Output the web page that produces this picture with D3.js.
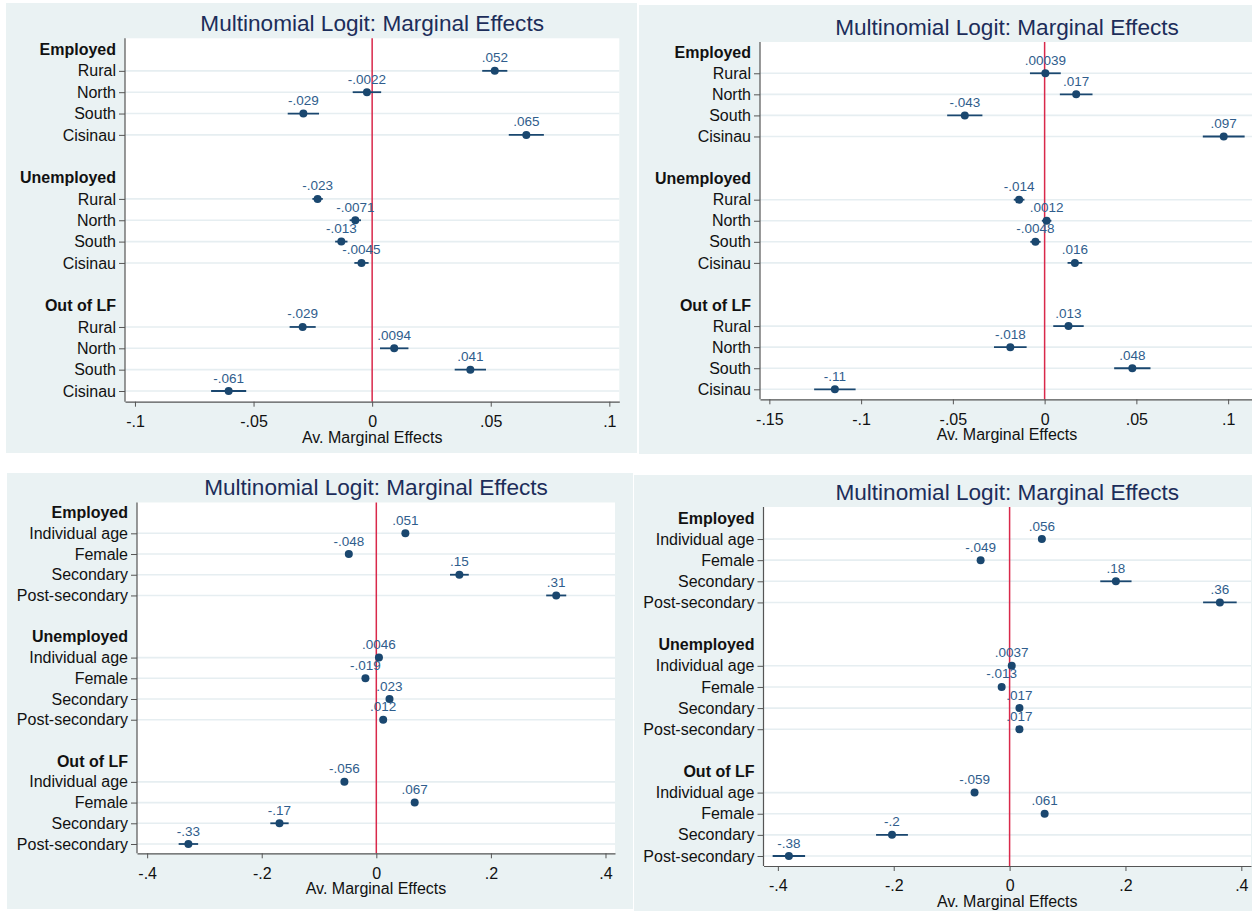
<!DOCTYPE html>
<html><head><meta charset="utf-8">
<script src="https://cdn.jsdelivr.net/npm/d3@7"></script>
<style>html,body{margin:0;padding:0;background:#fff}svg{display:block}</style>
</head><body>
<script>
// ---------- data ----------
const groups = ["Employed", "Unemployed", "Out of LF"];
const regionRows = ["Rural", "North", "South", "Cisinau"];
const covRows = ["Individual age", "Female", "Secondary", "Post-secondary"];

const p1Est  = [0.0517, -0.0022, -0.029, 0.065, -0.023, -0.0071, -0.013, -0.0045, -0.0293, 0.0093, 0.0414, -0.0605];
const p1Half = [0.0053, 0.006, 0.0066, 0.0074, 0.0022, 0.0024, 0.0026, 0.003, 0.0055, 0.006, 0.0066, 0.0074];
const p1Lab  = [".052", "-.0022", "-.029", ".065", "-.023", "-.0071", "-.013", "-.0045", "-.029", ".0094", ".041", "-.061"];

const p2Est  = [0.0004, 0.0172, -0.0435, 0.0976, -0.0139, 0.0011, -0.005, 0.0165, 0.013, -0.0187, 0.0478, -0.1143];
const p2Half = [0.0084, 0.0089, 0.0096, 0.0114, 0.0029, 0.0026, 0.0028, 0.004, 0.0083, 0.0089, 0.0099, 0.0113];
const p2Lab  = [".00039", ".017", "-.043", ".097", "-.014", ".0012", "-.0048", ".016", ".013", "-.018", ".048", "-.11"];

const p3Est  = [0.0507, -0.048, 0.145, 0.314, 0.0046, -0.019, 0.023, 0.012, -0.0557, 0.067, -0.169, -0.328];
const p3Half = [0.003, 0.003, 0.0164, 0.0175, 0.002, 0.002, 0.002, 0.002, 0.003, 0.003, 0.016, 0.017];
const p3Lab  = [".051", "-.048", ".15", ".31", ".0046", "-.019", ".023", ".012", "-.056", ".067", "-.17", "-.33"];

const p4Est  = [0.0557, -0.050, 0.1835, 0.363, 0.0037, -0.0137, 0.017, 0.017, -0.0605, 0.0605, -0.203, -0.381];
const p4Half = [0.004, 0.004, 0.027, 0.029, 0.002, 0.002, 0.002, 0.002, 0.004, 0.004, 0.0275, 0.028];
const p4Lab  = [".056", "-.049", ".18", ".36", ".0037", "-.013", ".017", ".017", "-.059", ".061", "-.2", "-.38"];

const tickSmall = [-0.1, -0.05, 0, 0.05, 0.1];
const tickSmallLab = ["-.1", "-.05", "0", ".05", ".1"];
const tickWide = [-0.15, -0.1, -0.05, 0, 0.05, 0.1];
const tickWideLab = ["-.15", "-.1", "-.05", "0", ".05", ".1"];
const tickBig = [-0.4, -0.2, 0, 0.2, 0.4];
const tickBigLab = ["-.4", "-.2", "0", ".2", ".4"];

const titleText = "Multinomial Logit: Marginal Effects";
const xTitleText = "Av. Marginal Effects";

// ---------- layout ----------
const panels = [
  {bg:[6,3,637,453], l:125, r:619.3, t:38.3, b:401.7, dom:[-0.1042,0.1042], yr:[49.5,391], tb:31,
   rows:regionRows, est:p1Est, half:p1Half, lab:p1Lab, ticks:tickSmall, tickLab:tickSmallLab},
  {bg:[639,5,1252,454], l:760, r:1254, t:42, b:399.3, dom:[-0.1551,0.1141], yr:[52.2,389.3], tb:34.5,
   rows:regionRows, est:p2Est, half:p2Half, lab:p2Lab, ticks:tickWide, tickLab:tickWideLab},
  {bg:[7,473,633,909], l:137, r:615, t:502.5, b:853.3, dom:[-0.4177,0.4166], yr:[512.6,844], tb:495,
   rows:covRows, est:p3Est, half:p3Half, lab:p3Lab, ticks:tickBig, tickLab:tickBigLab},
  {bg:[634,475,1252,911], l:763.5, r:1251, t:507, b:866, dom:[-0.4248,0.4167], yr:[517.9,856], tb:499.5,
   rows:covRows, est:p4Est, half:p4Half, lab:p4Lab, ticks:tickBig, tickLab:tickBigLab}
];

const FONT = "'Liberation Sans', Arial, Helvetica, sans-serif";
const BG = "#eaf2f3", GRID = "#e6eef1", NAVY = "#1a476f", LABC = "#2f5d8c", TITLEC = "#1c2d5a", AX = "#555", RED = "#d9284a";

const svg = d3.select("body").append("svg").attr("width", 1252).attr("height", 911)
  .style("font-family", FONT);

panels.forEach(p => {
  const g = svg.append("g");
  g.append("rect").attr("x", p.bg[0]).attr("y", p.bg[1])
    .attr("width", p.bg[2]-p.bg[0]).attr("height", p.bg[3]-p.bg[1]).attr("fill", BG);
  g.append("rect").attr("x", p.l).attr("y", p.t).attr("width", p.r-p.l).attr("height", p.b-p.t).attr("fill", "#fff");

  const x = d3.scaleLinear().domain(p.dom).range([p.l, p.r]);
  const y = d3.scaleLinear().domain([0, 16]).range(p.yr);

  const data = [];
  groups.forEach((gname, gi) => {
    p.rows.forEach((rname, ri) => {
      const k = gi*4 + ri;
      data.push({slot: gi*6 + 1 + ri, name: rname, est: p.est[k], half: p.half[k], lab: p.lab[k]});
    });
  });

  g.selectAll(".grid").data(data).join("line")
    .attr("x1", p.l).attr("x2", p.r)
    .attr("y1", d => y(d.slot)).attr("y2", d => y(d.slot))
    .attr("stroke", GRID).attr("stroke-width", 1.6);

  g.append("line").attr("x1", x(0)).attr("x2", x(0)).attr("y1", p.t).attr("y2", p.b)
    .attr("stroke", RED).attr("stroke-width", 1.5);

  const ya = d3.axisLeft(y).tickValues(data.map(d => d.slot))
    .tickFormat((v, i) => data[i].name).tickSize(6).tickPadding(3).tickSizeOuter(0);
  const yg = g.append("g").attr("transform", `translate(${p.l},0)`).call(ya);
  yg.select(".domain").remove();
  yg.selectAll(".tick line").attr("stroke", AX);
  yg.selectAll(".tick text").attr("font-size", 16).attr("fill", "#111").style("font-family", FONT);
  g.append("line").attr("x1", p.l).attr("x2", p.l).attr("y1", p.t).attr("y2", p.b)
    .attr("stroke", AX).attr("stroke-width", 1.2);

  g.selectAll(".hdr").data(groups).join("text")
    .attr("x", p.l - 9).attr("y", (d, i) => y(i*6)).attr("dy", "0.35em")
    .attr("text-anchor", "end").attr("font-size", 16).attr("font-weight", "bold").attr("fill", "#111")
    .text(d => d);

  const xa = d3.axisBottom(x).tickValues(p.ticks).tickFormat((v, i) => p.tickLab[i])
    .tickSize(5).tickPadding(9).tickSizeOuter(0);
  const xg = g.append("g").attr("transform", `translate(0,${p.b})`).call(xa);
  xg.select(".domain").attr("stroke", AX).attr("stroke-width", 1.2);
  xg.selectAll(".tick line").attr("stroke", AX);
  xg.selectAll(".tick text").attr("font-size", 16).attr("fill", "#111").style("font-family", FONT);

  const cx = (p.l + p.r) / 2;
  g.append("text").attr("x", cx).attr("y", p.b + 41).attr("text-anchor", "middle")
    .attr("font-size", 16).attr("fill", "#111").text(xTitleText);

  g.append("text").attr("x", cx).attr("y", p.tb).attr("text-anchor", "middle")
    .attr("font-size", 22.6).attr("fill", TITLEC).text(titleText);

  g.selectAll(".ci").data(data).join("line")
    .attr("x1", d => x(d.est - d.half)).attr("x2", d => x(d.est + d.half))
    .attr("y1", d => y(d.slot)).attr("y2", d => y(d.slot))
    .attr("stroke", NAVY).attr("stroke-width", 1.8);
  g.selectAll(".pt").data(data).join("circle")
    .attr("cx", d => x(d.est)).attr("cy", d => y(d.slot)).attr("r", 4).attr("fill", NAVY);
  g.selectAll(".ml").data(data).join("text")
    .attr("x", d => x(d.est)).attr("y", d => y(d.slot) - 8.5).attr("text-anchor", "middle")
    .attr("font-size", 13.5).attr("fill", LABC).text(d => d.lab);
});
</script>
</body></html>
